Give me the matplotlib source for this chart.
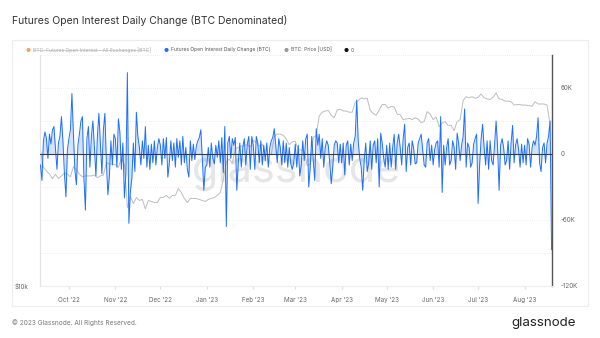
import numpy as np
import pandas as pd
import matplotlib
matplotlib.use("Agg")
import matplotlib.pyplot as plt
from matplotlib.patches import Rectangle

plt.rcParams["font.family"] = ["Inter", "DejaVu Sans"]

# daily change in futures open interest (thousand BTC), 2022-09-12 .. 2023-08-19
oi_sep = [-10, -24, 12, 20, 14, -4, 18, 9, 22, 25, 6, -14, 10, 16, 34, 12, -18, -39, 4]
oi_oct = [14, 22, 55, 18, -15, -28, 8, 18, 30, 34, -22, -51, 14, 25, -12, 16, 30, 6, -20, 16,
          37, 10, -18, 22, 37, -8, -37, -20, 12, -10, 18]
oi_nov = [14, -12, 32, 20, -14, 10, -40, -18, 74, -63, -34, -22, 10, -16, 38, 16, 6, -10, 12, -4,
          25, -12, 8, -14, 9, -8, 12, -10, 6, 14]
oi_dec = [8, -10, 14, -4, 15, -21, -8, 12, -6, 10, -12, 14, -3, 12, -10, 16, -8, 6, -14, -21,
          12, -6, 9, -5, 7, 12, 15, 22, -4, -33, -12]
oi_jan = [-10, 6, -12, 10, -4, -9, 8, -3, 12, -8, 15, -17, 25, -66, 10, 16, -4, 14, 8, 15,
          -33, -8, 10, -12, 6, 14, -10, 9, 16, -14, 16]
oi_feb = [8, -14, 16, 10, -8, 12, -10, 8, -6, 10, -12, 6, 12, 15, 23, 8, -8, 14, 6, -10,
          12, -8, 10, -12, 6, -9, -14, -8]
oi_mar = [9, -12, 8, -20, -10, 12, -6, 14, 18, -30, -12, 16, -6, -24, 23, 8, 18, -4, 14, -12,
          6, 12, 8, -8, -27, -12, 8, 12, 10, -8, 9]
oi_apr = [-8, 10, -19, 8, 12, -10, 9, -6, 10, 16, 49, 12, -4, -12, -33, -6, 10, -16, -8, 12,
          -14, 8, 12, -8, 14, -30, 19, 10, -4, -12]
oi_may = [8, -14, 10, -12, 6, 18, -14, 10, 18, 6, -10, 14, 27, -16, 6, 10, -10, 12, 5, -9,
          -8, 10, 14, 18, 4, -10, -12, 10, 14, -6, 8]
oi_jun = [-10, 4, 10, 12, -12, 34, -35, 8, -10, 6, 14, -10, -6, 12, 6, -14, 19, 10, -6, 8,
          16, 41, -12, 10, 6, -12, -8, 9, 14, 18]
oi_jul = [-45, -10, 14, 27, 6, -10, 12, -14, 12, -6, -10, 9, 30, 6, -33, 8, 14, 6, -10, -6,
          12, -14, 10, 26, -8, 8, 14, 4, -12, 9, -8]
oi_aug = [8, -10, 14, 9, -12, 6, 12, 8, 16, 33, -8, -16, 6, 10, -8, 10, 16, 30, -87]

# BTC price (thousand USD), every second day from 2022-09-12
price_k = [22.4, 20.2, 19.8, 19.4, 18.9, 19.4, 18.9, 19.2, 19.5, 19.4,
           19.1, 20.3, 19.9, 19.4, 19.1, 19.2, 19.2, 19.2, 19.3, 19.0,
           19.2, 19.3, 20.8, 20.6, 20.6, 20.5, 20.2, 21.3, 20.6, 15.9,
           17.0, 16.3, 16.9, 16.6, 16.7, 15.8, 16.6, 16.5, 16.4, 16.4,
           16.9, 16.9, 17.1, 16.8, 17.1, 17.1, 17.8, 17.4, 16.8, 16.4,
           16.8, 16.8, 16.8, 16.7, 16.6, 16.5, 16.7, 16.8, 16.9, 17.1,
           17.4, 18.8, 20.9, 21.2, 20.7, 22.6, 22.7, 22.9, 23.0, 23.1,
           22.8, 23.7, 23.4, 22.9, 23.2, 21.8, 21.8, 21.8, 24.3, 24.6,
           24.6, 24.4, 23.9, 23.1, 23.5, 23.6, 22.4, 22.4, 22.2, 20.4,
           20.6, 24.1, 24.4, 27.4, 28.0, 28.2, 28.3, 27.5, 27.1, 28.4,
           28.5, 28.2, 28.2, 28.0, 28.0, 29.7, 30.0, 30.5, 30.3, 30.4,
           28.3, 27.8, 27.5, 28.4, 29.3, 29.3, 28.7, 29.0, 28.9, 27.7,
           27.6, 26.8, 26.9, 27.0, 26.8, 27.1, 26.9, 26.3, 26.5, 28.1,
           27.7, 26.8, 27.2, 25.7, 26.3, 26.5, 25.9, 25.9, 25.1, 26.5,
           26.8, 30.0, 30.7, 30.5, 30.7, 30.4, 30.6, 31.2, 30.5, 30.3,
           30.2, 30.6, 31.4, 30.3, 30.2, 29.9, 29.9, 29.8, 29.2, 29.3,
           29.3, 29.2, 29.2, 29.1, 29.0, 29.8, 29.4, 29.4, 29.4, 29.2,
           26.1]

month_labels = ["Oct '22", "Nov '22", "Dec '22", "Jan '23", "Feb '23", "Mar '23",
                "Apr '23", "May '23", "Jun '23", "Jul '23", "Aug '23"]

oi = np.array(oi_sep + oi_oct + oi_nov + oi_dec + oi_jan + oi_feb + oi_mar
              + oi_apr + oi_may + oi_jun + oi_jul + oi_aug)
oi_dates = pd.date_range("2022-09-12", periods=len(oi), freq="D")
price = np.array(price_k) * 1000
price_dates = pd.date_range("2022-09-12", periods=len(price), freq="2D")

fig = plt.figure(figsize=(6, 3.38), dpi=100)
fig.patch.set_facecolor("white")

# outer chart frame
fig.patches.append(Rectangle((12 / 600, 1 - 306 / 338), 576 / 600, 266 / 338,
                             transform=fig.transFigure, fill=False,
                             edgecolor="#ececec", lw=0.8))

ax = fig.add_axes([40 / 600, 1 - 286 / 338, 512 / 600, 231 / 338])
ax2 = ax.twinx()

ax.plot(price_dates, price, color="#bdbdbd", lw=0.7, zorder=2)
ax.set_yscale("log")
ax.set_ylim(10000, 39300)
ax.set_yticks([10000])
ax.set_yticklabels(["$10k"])
ax.yaxis.set_minor_locator(matplotlib.ticker.NullLocator())
ax.tick_params(axis="y", length=0, labelsize=4.5, labelcolor="#666666", pad=8)

ax.text(0.5, 0.5, "glassnode", transform=ax.transAxes, fontsize=31,
        color="#e6e6e6", ha="center", va="center", zorder=0.5)

ax2.fill_between(oi_dates, oi, 0, color="#2979ff", alpha=0.2, lw=0, zorder=2)
ax2.plot(oi_dates, oi, color="#1f6fff", lw=0.7, zorder=3)
ax2.axhline(0, color="#3a3a3a", lw=0.8, zorder=4)
ax2.set_ylim(-120, 90)
ax2.set_yticks([60, 0, -60, -120])
ax2.set_yticklabels(["60K", "0", "-60K", "-120K"])
ax2.tick_params(axis="y", length=0, labelsize=4.5, labelcolor="#666666", pad=6)
for g in [90, 60, 30, -30, -60, -90]:
    ax2.axhline(g, color="#dddddd", lw=0.5, ls=(0, (1, 2)), zorder=1)

ax.set_xlim(pd.Timestamp("2022-09-11 17:00"), pd.Timestamp("2023-08-19 07:00"))
month_ticks = pd.date_range("2022-10-01", periods=len(month_labels), freq="MS")
ax.set_xticks(month_ticks)
ax.set_xticklabels(month_labels)
ax.tick_params(axis="x", length=2, color="#dddddd", labelsize=4.5,
               labelcolor="#666666", pad=6)

for a in (ax, ax2):
    a.spines["top"].set_visible(False)
    a.spines["left"].set_color("#e3e3e3")
    a.spines["bottom"].set_color("#eeeeee")
    a.spines["left"].set_linewidth(0.8)
    a.spines["bottom"].set_linewidth(0.8)
ax2.spines["right"].set_color("#555555")
ax2.spines["right"].set_linewidth(1.0)
ax.spines["right"].set_visible(False)

# legend row
leg_y = 1 - 50 / 338
items = [(28, "#f4a261", "BTC: Futures Open Interest - All Exchanges [BTC]", "#b0b0b0"),
         (166, "#1f6fff", "Futures Open Interest Daily Change (BTC)", "#555555"),
         (286, "#999999", "BTC: Price [USD]", "#555555"),
         (346, "#111111", "0", "#555555")]
for xp, dot, label, tc in items:
    fig.text(xp / 600, leg_y, "\u25cf", color=dot, fontsize=4, ha="center", va="center")
    fig.text((xp + 5) / 600, leg_y, label, color=tc, fontsize=3.6, va="center")
fig.lines.append(plt.Line2D([33 / 600, 148 / 600], [leg_y, leg_y], color="#b0b0b0",
                            lw=0.4, transform=fig.transFigure))

fig.text(12 / 600, 1 - 20 / 338, "Futures Open Interest Daily Change (BTC Denominated)",
         fontsize=7.5, color="#333333", va="center")
fig.text(12 / 600, 1 - 323 / 338, "\u00a9 2023 Glassnode. All Rights Reserved.",
         fontsize=4.7, color="#777777", va="center")
fig.text(576 / 600, 1 - 323 / 338, "glassnode", fontsize=9.6, color="#222222",
         ha="right", va="center")

fig.savefig("out.png", dpi=100, facecolor="white")
